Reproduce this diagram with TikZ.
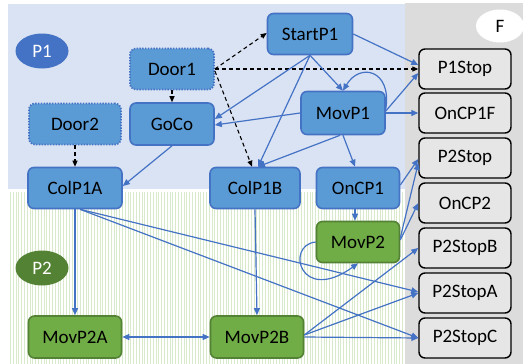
\documentclass[tikz,border=0pt]{standalone}
\usepackage{fontspec}
\setmainfont{Carlito}
\usetikzlibrary{arrows.meta,calc,shapes.geometric}
\definecolor{bluefill}{HTML}{5B9BD5}
\definecolor{blueline}{HTML}{4472C4}
\definecolor{greenfill}{HTML}{70AD47}
\definecolor{greenline}{HTML}{548235}
\definecolor{greyfill}{HTML}{E7E6E6}
\definecolor{regionblue}{HTML}{DAE3F3}
\definecolor{stripegreen}{HTML}{D8E9CC}
\definecolor{regiongrey}{HTML}{DCDCDC}
\tikzset{
  base/.style={rounded corners=6pt, minimum height=41pt, inner sep=0pt, font=\fontsize{19}{22}\selectfont, line width=1.6pt},
  bluebox/.style={base, fill=bluefill, draw=blueline},
  doorbox/.style={base, fill=bluefill, draw=blueline, dash pattern=on 1.4pt off 1.4pt, line width=1.8pt},
  greenbox/.style={base, fill=greenfill, draw=greenline},
  greybox/.style={base, fill=greyfill, draw=black, minimum width=92pt, minimum height=40pt, line width=1.4pt},
  edge/.style={draw=blueline, line width=1.2pt, -{Triangle[length=7pt,width=6pt]}},
  dedge/.style={draw=black, line width=1.1pt, dash pattern=on 4pt off 3pt, -{Triangle[length=6pt,width=5pt]}},
  tag/.style={ellipse, inner sep=0pt, font=\fontsize{19}{22}\selectfont},
}
\begin{document}
\begin{tikzpicture}[x=1pt,y=-1pt]
\useasboundingbox (0,0) rectangle (523,364);
% regions
\fill[regiongrey] (405,3) rectangle (523,364);
\fill[regionblue] (8,4) rectangle (405,189);
\foreach \x in {10.5,13.3,...,404} \draw[stripegreen, line width=1pt] (\x,192) -- (\x,364);
% tags
\node[tag, fill=blueline, text=white, minimum width=53pt, minimum height=35pt] (P1) at (42,51) {P1};
\node[tag, fill=greenline, text=white, minimum width=53pt, minimum height=35pt] (P2) at (42,268) {P2};
\node[tag, fill=white, minimum width=48pt, minimum height=33pt] (F) at (500,26) {F};
% nodes
\node[bluebox, minimum width=85pt] (StartP1) at (310,34) {StartP1};
\node[doorbox, minimum width=84pt] (Door1) at (172,69) {Door1};
\node[bluebox, minimum width=84pt, minimum height=42pt] (GoCo) at (172,124) {GoCo};
\node[doorbox, minimum width=92pt] (Door2) at (75,124) {Door2};
\node[bluebox, minimum width=94pt] (ColP1A) at (75,188) {ColP1A};
\node[bluebox, minimum width=90pt] (ColP1B) at (255,188) {ColP1B};
\node[bluebox, minimum width=83pt] (OnCP1) at (358,188) {OnCP1};
\node[bluebox, minimum width=84pt, minimum height=43pt] (MovP1) at (343,113) {MovP1};
\node[greenbox, minimum width=83pt] (MovP2) at (358,242) {MovP2};
\node[greenbox, minimum width=93pt, minimum height=42pt] (MovP2A) at (75,337) {MovP2A};
\node[greenbox, minimum width=93pt, minimum height=42pt] (MovP2B) at (257,337) {MovP2B};
\node[greybox] (P1Stop) at (465,69) {P1Stop};
\node[greybox] (OnCP1F) at (465,113) {OnCP1F};
\node[greybox] (P2Stop) at (465,158) {P2Stop};
\node[greybox] (OnCP2) at (465,203) {OnCP2};
\node[greybox] (P2StopB) at (465,248) {P2StopB};
\node[greybox] (P2StopA) at (465,293) {P2StopA};
\node[greybox] (P2StopC) at (465,338) {P2StopC};
% dashed edges
\draw[dedge] (Door1.east) -- ($(StartP1.west)+(0,-1)$);
\draw[dedge] (Door1.east) -- (P1Stop.west);
\draw[dedge] ($(Door1.east)+(0,2)$) -- ($(ColP1B.north)+(-3,0)$);
\draw[dedge] (Door1.south) -- (GoCo.north);
\draw[dedge] (Door2.south) -- (ColP1A.north);
% solid edges
\draw[edge] (StartP1.east) -- ($(P1Stop.west)+(0,-4)$);
\draw[edge] (StartP1.south) -- (MovP1.north);
\draw[edge] (StartP1.south) -- ($(GoCo.east)+(0,-5)$);
\draw[edge] (StartP1.south) -- ($(ColP1B.north)+(3,0)$);
\draw[edge] (MovP1.west) -- ($(GoCo.east)+(0,1)$);
\draw[edge] ($(MovP1.east)+(0,-4)$) .. controls (392,70) and (360,62) .. (MovP1.north);
\draw[edge] ($(MovP1.east)+(0,-2)$) -- ($(P1Stop.west)+(0,4)$);
\draw[edge] (MovP1.east) -- (OnCP1F.west);
\draw[edge] ($(MovP1.south)+(-3,0)$) -- ($(ColP1B.north)+(3,0)$);
\draw[edge] (MovP1.south) -- ($(OnCP1.north)+(-3,0)$);
\draw[edge] (GoCo.south) -- ($(ColP1A.east)+(0,-2)$);
\draw[edge] ($(OnCP1.east)+(0,-3)$) -- ($(P2Stop.west)+(0,1)$);
\draw[edge] ($(OnCP1.south)+(-3,0)$) -- ($(MovP2.north)+(-3,0)$);
\draw[edge] ($(MovP2.east)+(0,-4)$) -- ($(P2Stop.west)+(0,5)$);
\draw[edge] ($(MovP2.east)+(0,-2)$) -- (OnCP2.west);
\draw[edge] (MovP2.west) .. controls (285,245) and (300,305) .. (MovP2.south);
\draw[edge] (ColP1A.south) -- (MovP2A.north);
\draw[edge] ($(ColP1A.south)+(5,0)$) -- ($(P2StopA.west)+(0,-1)$);
\draw[edge] ($(ColP1A.south)+(5,0)$) -- (P2StopC.west);
\draw[edge] (ColP1B.south) -- (MovP2B.north);
\draw[edge, {Triangle[length=7pt,width=6pt]}-{Triangle[length=7pt,width=6pt]}] (MovP2A.east) -- (MovP2B.west);
\draw[edge] ($(MovP2B.east)+(0,-2)$) -- (P2StopB.west);
\draw[edge] ($(MovP2B.east)+(0,-2)$) -- (P2StopA.west);
\draw[edge] (MovP2B.east) -- (P2StopC.west);
\end{tikzpicture}
\end{document}
